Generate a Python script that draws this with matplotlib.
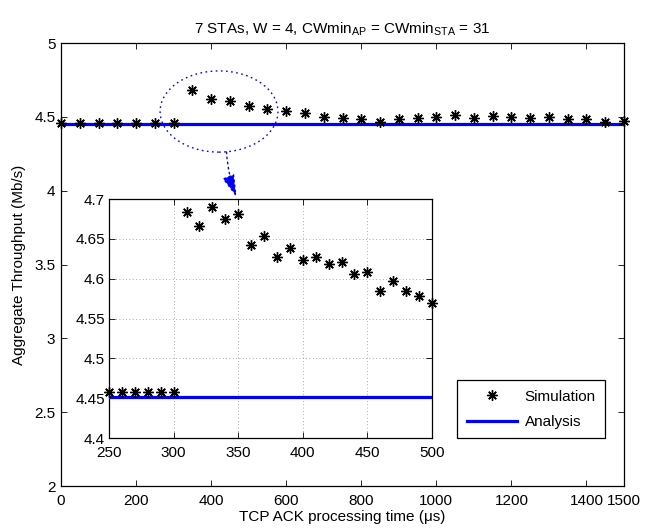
import matplotlib
matplotlib.use("Agg")
import matplotlib.pyplot as plt
from matplotlib.patches import Ellipse
from matplotlib.ticker import FormatStrFormatter

plt.rcParams['font.family'] = ['Liberation Sans', 'DejaVu Sans']
plt.rcParams['font.size'] = 11
plt.rcParams['mathtext.fontset'] = 'custom'
plt.rcParams['mathtext.rm'] = 'Liberation Sans'
plt.rcParams['mathtext.it'] = 'Liberation Sans'

# ---- data ----
x_main = [0, 50, 100, 150, 200, 250, 300, 350, 400, 450, 500, 550, 600, 650, 700,
          750, 800, 850, 900, 950, 1000, 1050, 1100, 1150, 1200, 1250, 1300, 1350,
          1400, 1450, 1500]
sim_main = [4.458, 4.458, 4.458, 4.458, 4.458, 4.458, 4.458, 4.681, 4.624, 4.608,
            4.570, 4.556, 4.538, 4.526, 4.497, 4.489, 4.482, 4.466, 4.487, 4.493,
            4.500, 4.515, 4.493, 4.508, 4.502, 4.493, 4.500, 4.487, 4.487, 4.466,
            4.472]
x_inset = [250, 260, 270, 280, 290, 300, 310, 320, 330, 340, 350, 360, 370, 380,
           390, 400, 410, 420, 430, 440, 450, 460, 470, 480, 490, 500]
sim_inset = [4.458, 4.458, 4.458, 4.458, 4.458, 4.458, 4.684, 4.666, 4.690, 4.675,
             4.681, 4.642, 4.654, 4.627, 4.638, 4.624, 4.627, 4.618, 4.621, 4.606,
             4.608, 4.584, 4.597, 4.585, 4.578, 4.570]
analysis = 4.451

main_xticks = [0, 200, 400, 600, 800, 1000, 1200, 1400, 1500]
main_yticks = [2, 2.5, 3, 3.5, 4, 4.5, 5]
inset_xticks = [250, 300, 350, 400, 450, 500]
inset_yticks = [4.4, 4.45, 4.5, 4.55, 4.6, 4.65, 4.7]

star = (8, 2, 0)
blue = (0, 0, 1)

fig = plt.figure(figsize=(6.45, 5.3), dpi=100)
ax = fig.add_axes([61/645, 1-486/530, 563/645, 443/530])
ax.plot(x_main, sim_main, linestyle='none', marker=star, ms=7.5, mec='k', mew=1.0,
        color='k', clip_on=False, zorder=4, label='Simulation')
ax.plot(x_main, [analysis]*len(x_main), color=blue, lw=2.3, zorder=3,
        label='Analysis')
ax.set_xlim(0, 1500)
ax.set_ylim(2, 5)
ax.set_xticks(main_xticks)
ax.set_yticks(main_yticks)
ax.yaxis.set_major_formatter(FormatStrFormatter('%g'))
ax.tick_params(direction='in', top=True, right=True, length=4, width=0.6)
ax.tick_params(axis='x', pad=6)
ax.tick_params(axis='y', pad=4)
for s in ax.spines.values():
    s.set_linewidth(0.9)
ax.set_title('7 STAs, W = 4, CWmin$_{\\mathrm{AP}}$ = CWmin$_{\\mathrm{STA}}$ = 31',
             fontsize=11, pad=7)
ax.set_xlabel('TCP ACK processing time (\u03bcs)', labelpad=1)
ax.set_ylabel('Aggregate Throughput (Mb/s)', labelpad=6)

leg = ax.legend(loc='lower right', bbox_to_anchor=(0.966, 0.108), borderaxespad=0,
                fancybox=False, edgecolor='k', framealpha=1, handlelength=3.3,
                handletextpad=0.5, borderpad=0.6, labelspacing=0.75, fontsize=11)
leg.get_frame().set_linewidth(0.9)

# zoom ellipse and arrow
ell = Ellipse((421, 4.536), 314, 0.55, fill=False, edgecolor=blue, lw=1.0,
              linestyle=(0, (1.2, 2.5)), zorder=2)
ax.add_patch(ell)
ax.annotate('', xy=(468, 3.955), xytext=(441, 4.262),
            arrowprops=dict(arrowstyle='-|>,head_length=1.0,head_width=0.28',
                            color=blue, lw=1.0, linestyle=(0, (1.2, 2.5)),
                            mutation_scale=14, shrinkA=0, shrinkB=0,
                            connectionstyle='arc3,rad=0.08'))

# inset
ax2 = fig.add_axes([109/645, 1-438/530, 323/645, 239/530])
ax2.plot(x_inset, sim_inset, linestyle='none', marker=star, ms=7.5, mec='k',
         mew=1.0, color='k', clip_on=False, zorder=4)
ax2.plot(x_inset, [analysis]*len(x_inset), color=blue, lw=2.3, zorder=3)
ax2.set_xlim(250, 500)
ax2.set_ylim(4.4, 4.7)
ax2.set_xticks(inset_xticks)
ax2.set_yticks(inset_yticks)
ax2.yaxis.set_major_formatter(FormatStrFormatter('%g'))
ax2.tick_params(direction='in', top=True, right=True, length=4, width=0.6)
ax2.tick_params(axis='x', pad=6)
ax2.tick_params(axis='y', pad=3)
ax2.grid(True, color='0.55', linestyle=(0, (1, 3)), lw=0.6)
for s in ax2.spines.values():
    s.set_linewidth(0.9)

fig.savefig('out.png', dpi=100)
